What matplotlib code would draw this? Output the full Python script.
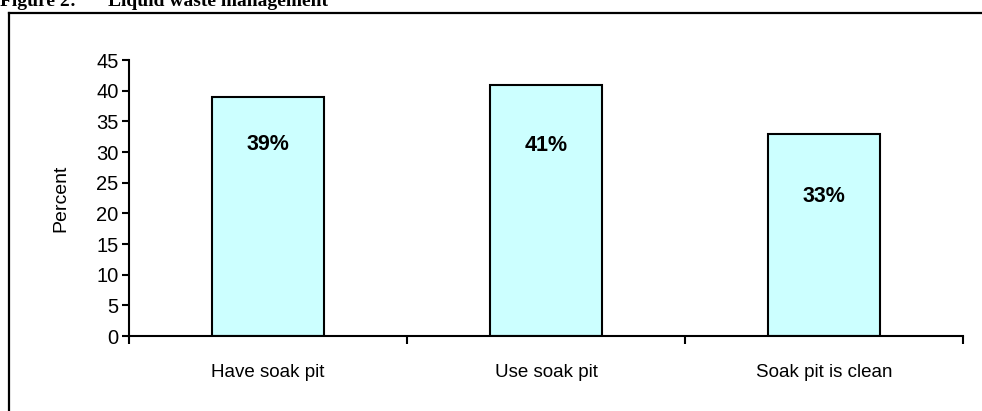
import matplotlib
matplotlib.use("Agg")
import matplotlib.pyplot as plt
from matplotlib.lines import Line2D

categories = ["Have soak pit", "Use soak pit", "Soak pit is clean"]
percent = [39, 41, 33]
value_labels = ["39%", "41%", "33%"]
yticks = [0, 5, 10, 15, 20, 25, 30, 35, 40, 45]

W, H = 982, 411
fig = plt.figure(figsize=(W / 100, H / 100), dpi=100)
plt.rcParams["font.family"] = ["Liberation Sans", "DejaVu Sans"]

# plot area from pixel measurements
ax = fig.add_axes([129 / W, 75 / H, (963 - 129) / W, (336 - 60) / H])

xpos = [i + 0.5 for i in range(len(categories))]
ax.bar(xpos, percent, width=0.4, color="#ccffff", edgecolor="black",
       linewidth=1.5, zorder=2)

# labels sit inside the bars, as in the source (Excel inside-end)
label_y = [31.3, 31.0, 22.8]
for x, y, txt in zip(xpos, label_y, value_labels):
    ax.text(x, y, txt, ha="center", va="center", fontsize=15.5,
            fontweight="bold")

ax.set_xlim(0, len(categories))
ax.set_ylim(0, 45)
ax.set_yticks(yticks)
ax.set_xticks(range(len(categories) + 1))
ax.set_xticklabels([])
ax.set_xticks(xpos, minor=True)
ax.set_xticklabels(categories, minor=True)
ax.tick_params(axis="x", which="major", direction="out", length=6,
               width=1.5)
ax.tick_params(axis="x", which="minor", length=0, pad=20, labelsize=13.5)
ax.tick_params(axis="y", direction="out", length=5, width=1.5,
               labelsize=14.5, pad=2.5)
for side in ("top", "right"):
    ax.spines[side].set_visible(False)
for side in ("left", "bottom"):
    ax.spines[side].set_linewidth(1.5)
ax.set_ylabel("Percent", fontsize=14, labelpad=19)

# outer frame (only the left and top edges show in the crop)
fig.add_artist(Line2D([8.5 / W, 8.5 / W], [0, 1 - 13 / H],
                      transform=fig.transFigure, color="black", lw=1.6))
fig.add_artist(Line2D([8.5 / W, 1], [1 - 13 / H, 1 - 13 / H],
                      transform=fig.transFigure, color="black", lw=1.6))

# title line of the document, cut at the top edge
fig.text(0, 1 - 6 / H, "Figure 2:", family="Liberation Serif",
         fontweight="bold", fontsize=14, va="baseline")
fig.text(108 / W, 1 - 6 / H, "Liquid waste management",
         family="Liberation Serif", fontweight="bold", fontsize=14,
         va="baseline")

fig.savefig("out.png", dpi=100)
